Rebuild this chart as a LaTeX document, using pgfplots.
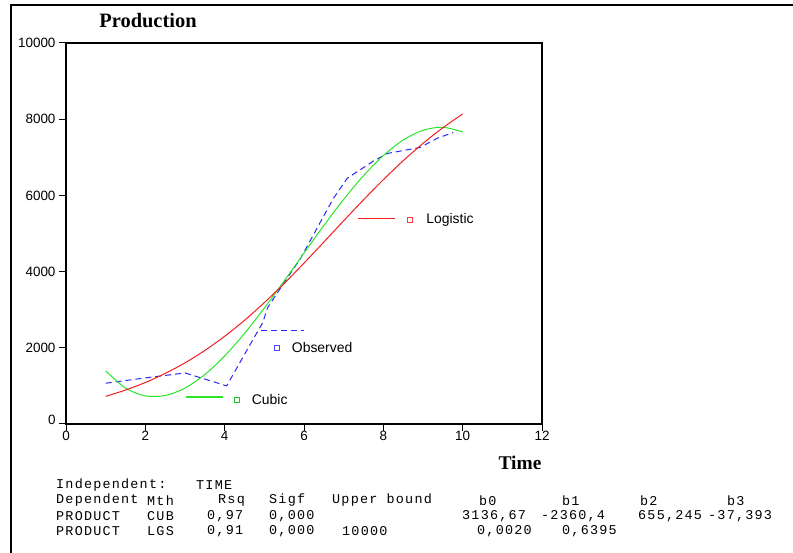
\documentclass[border=0pt]{standalone}
\usepackage{fontspec}
\setmainfont{Liberation Serif}
\newfontfamily\arial{Liberation Sans}
\newfontfamily\spssmono[LetterSpace=9]{Liberation Mono}
\usepackage{pgfplots}
\pgfplotsset{compat=1.18}
\definecolor{cRed}{RGB}{240,30,30}
\definecolor{cGreen}{RGB}{40,230,40}
\definecolor{cBlue}{RGB}{40,40,250}
\newcommand{\mt}[3]{\node[anchor=west,inner sep=0pt,font=\spssmono\fontsize{13.5}{15}\selectfont] at (#1,#2) {#3};}
\begin{document}
\begin{tikzpicture}[x=1bp,y=1bp]
\path[use as bounding box] (0,0) rectangle (793,553);
\draw[line width=2.5bp] (11,0) -- (11,548) -- (793,548);
\begin{axis}[
  anchor=south west, at={(66bp,129bp)},
  scale only axis, width=476bp, height=381bp,
  xmin=0, xmax=12, ymin=0, ymax=10000,
  xtick={0,2,4,6,8,10,12},
  ytick={0,2000,4000,6000,8000,10000},
  yticklabels={\raisebox{9bp}{0},2000,4000,6000,8000,10000},
  tick align=outside, xtick pos=bottom, ytick pos=left,
  major tick length=7bp,
  tick style={black, line width=1bp},
  axis line style={line width=1.2bp},
  scaled y ticks=false,
  /pgf/number format/1000 sep={},
  /pgf/number format/assume math mode=true,
  ticklabel style={font=\arial\fontsize{13.5}{15}\selectfont},
  xticklabel style={yshift=3bp},
]
% Observed
\addplot[draw=cBlue, mark=none, line width=1bp, dash pattern=on 6bp off 4bp] coordinates {
 (1,1070) (2,1210) (3,1340) (3.65,1130) (4.05,1000) (4.48,1790) (4.65,2100)
 (4.96,2660) (5.08,3050) (5.48,3680) (5.91,4340) (6.34,5160) (6.74,5920)
 (7.09,6450) (7.75,6900) (8.1,7100) (8.93,7260) (9.36,7500) (9.76,7650)
};
% Cubic
\addplot[draw=cGreen, mark=none, line width=1bp, smooth] coordinates {
 (1,1394) (1.5,944) (2,738) (2.5,747) (3,943) (3.5,1299) (4,1786) (4.5,2376)
 (5,3042) (5.5,3754) (6,4486) (6.5,5209) (7,5895) (7.5,6516) (8,7044)
 (8.5,7451) (9,7708) (9.5,7789) (10,7664)
};
% Logistic
\addplot[draw=cRed, mark=none, line width=1bp, smooth] coordinates {
 (1,725) (1.5,891) (2,1089) (2.5,1326) (3,1605) (3.5,1930) (4,2302) (4.5,2721)
 (5,3186) (5.5,3689) (6,4223) (6.5,4776) (7,5334) (7.5,5884) (8,6412)
 (8.5,6909) (9,7365) (9.5,7775) (10,8138)
};
% in-plot legends
\addplot[draw=cRed, mark=none, line width=1.3bp] coordinates {(7.37,5400) (8.30,5400)};
\addplot[draw=cRed!85!white, only marks, mark=square, mark size=2.5bp, mark options={line width=0.9bp}] coordinates {(8.68,5368)};
\node[anchor=west, inner sep=0pt, font=\arial\fontsize{14}{16}\selectfont] at (axis cs:9.08,5368) {Logistic};
\addplot[draw=cBlue, mark=none, line width=1bp, dash pattern=on 6bp off 4bp] coordinates {(4.91,2447) (5.99,2447)};
\addplot[draw=cBlue!85!white, only marks, mark=square, mark size=2.5bp, mark options={line width=0.9bp}] coordinates {(5.31,2000)};
\node[anchor=west, inner sep=0pt, font=\arial\fontsize{14}{16}\selectfont] at (axis cs:5.69,2000) {Observed};
\addplot[draw=cGreen, mark=none, line width=1.3bp] coordinates {(3.02,710) (3.95,710)};
\addplot[draw=cGreen!85!black, only marks, mark=square, mark size=2.5bp, mark options={line width=0.9bp}] coordinates {(4.30,632)};
\node[anchor=west, inner sep=0pt, font=\arial\fontsize{14}{16}\selectfont] at (axis cs:4.68,632) {Cubic};
\end{axis}
\node[font=\bfseries\fontsize{20.5}{22}\selectfont] at (148,532) {Production};
\node[font=\bfseries\fontsize{19.5}{21}\selectfont] at (520,90) {Time};
% bottom text
\mt{56}{68}{Independent:}
\mt{196}{68}{TIME}
\mt{56}{52.5}{Dependent}
\mt{147}{52.5}{Mth}
\mt{218}{52.5}{Rsq}
\mt{269}{52.5}{Sigf}
\mt{332}{52.5}{Upper bound}
\mt{479}{52.5}{b0}
\mt{562}{52.5}{b1}
\mt{640}{52.5}{b2}
\mt{727}{52.5}{b3}
\mt{56}{37}{PRODUCT}
\mt{147}{37}{CUB}
\mt{207}{37}{0,97}
\mt{269}{37}{0,000}
\mt{462}{37}{3136,67}
\mt{541}{37}{-2360,4}
\mt{638}{37}{655,245}
\mt{708}{37}{-37,393}
\mt{56}{21.5}{PRODUCT}
\mt{147}{21.5}{LGS}
\mt{207}{21.5}{0,91}
\mt{269}{21.5}{0,000}
\mt{342}{21.5}{10000}
\mt{477}{21.5}{0,0020}
\mt{562}{21.5}{0,6395}
\end{tikzpicture}
\end{document}
